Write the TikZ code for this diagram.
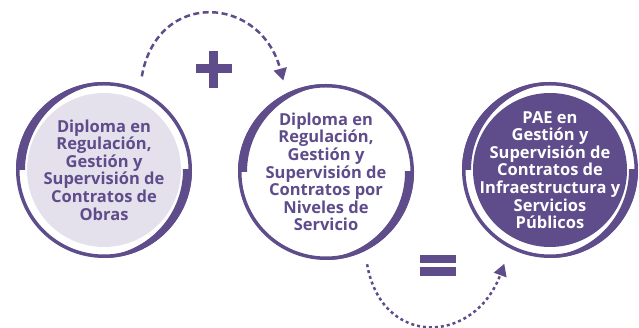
\documentclass[tikz,border=0pt]{standalone}
\usepackage{fontspec}
\setmainfont{Open Sans}
\usetikzlibrary{arrows.meta,backgrounds}

\definecolor{morado}{RGB}{94,76,139}
\definecolor{lila}{RGB}{228,224,236}

\tikzset{
  curso/.style={circle, minimum size=176pt, inner sep=0pt, outer sep=13pt,
    align=center, font=\bfseries\fontsize{16.5}{17.6}\selectfont},
  flecha/.style={morado, line width=2.5pt, -{Triangle[length=12pt,width=13pt]}},
}

% ring with two thick crescents round a centre
\newcommand{\anillo}[2]{%
  \fill[#2] (#1) circle (77pt);
  \draw[morado, line width=3.5pt] (#1) circle (86.25pt);
  \begin{scope}[shift={(#1)}]
    \clip (0,0) rectangle (-90,90);
    \fill[morado, even odd rule] (0,0) circle (88pt) (7.3,0) circle (86.3pt);
  \end{scope}
  \begin{scope}[shift={(#1)}]
    \clip (0,0) rectangle (90,-90);
    \fill[morado, even odd rule] (0,0) circle (88pt) (-7.3,0) circle (86.3pt);
  \end{scope}
}

\begin{document}
\begin{tikzpicture}[x=1pt,y=1pt]
  \useasboundingbox (0,0) rectangle (639,328);

  \node[curso, text=morado] (obras) at (104,158)
    {Diploma en\\Regulación,\\Gestión y\\Supervisión de\\Contratos de\\Obras};
  \node[curso, text=morado] (niveles) at (326,156)
    {Diploma en\\Regulación,\\Gestión y\\Supervisión de\\Contratos por\\Niveles de\\Servicio};
  \node[curso, text=white] (pae) at (550,158)
    {PAE en\\Gestión y\\Supervisión de\\Contratos de\\Infraestructura y\\Servicios\\Públicos};

  \begin{scope}[on background layer]
    \anillo{obras}{lila}
    \anillo{niveles}{white}
    \anillo{pae}{morado}
  \end{scope}

  % signs
  \fill[morado] (196,254.5) rectangle (232,263.5);
  \fill[morado] (208.5,240) rectangle (217.5,277);
  \fill[morado] (420,65) rectangle (456,73);
  \fill[morado] (420,52) rectangle (456,61);

  \draw[flecha, dash pattern=on 6pt off 3.5pt] (obras.68) to[out=80, in=105, looseness=1.6] (niveles.115);
  \draw[flecha, dash pattern=on 3pt off 3pt] (niveles.-66) to[out=-80, in=-110, looseness=1.6] (pae.-116);

\end{tikzpicture}
\end{document}
